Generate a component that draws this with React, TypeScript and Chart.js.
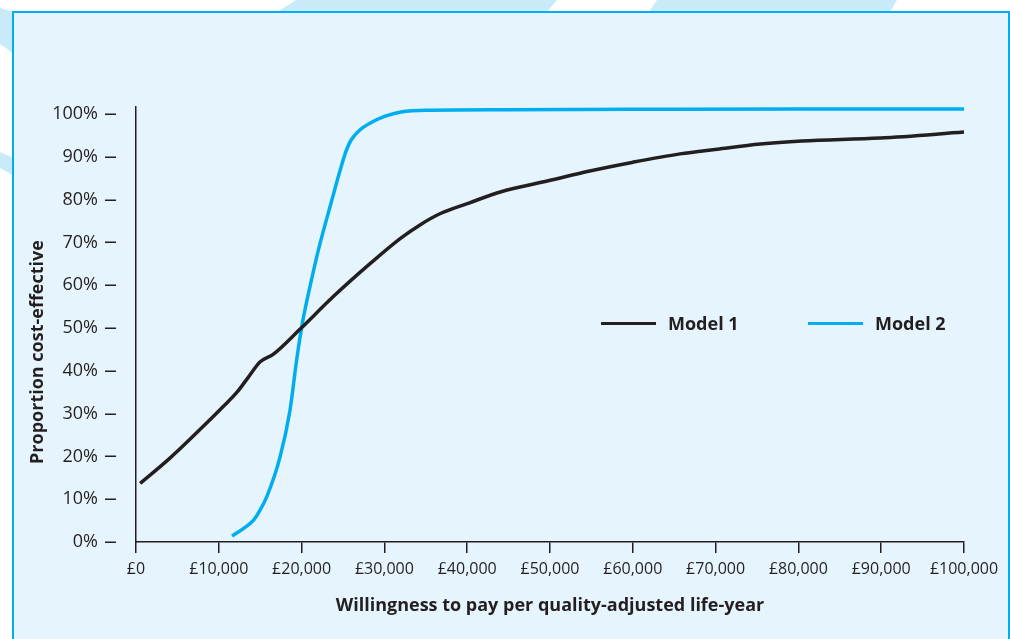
import React, { useEffect, useRef } from "react";
import { Chart, registerables } from "chart.js";

Chart.register(...registerables);

// ---------- data ----------
const xTickValues = [0, 10000, 20000, 30000, 40000, 50000, 60000, 70000, 80000, 90000, 100000];
const xTickLabels = ["£0", "£10,000", "£20,000", "£30,000", "£40,000", "£50,000", "£60,000", "£70,000", "£80,000", "£90,000", "£100,000"];
const yTickValues = [0, 10, 20, 30, 40, 50, 60, 70, 80, 90, 100];
const yTickLabels = ["0%", "10%", "20%", "30%", "40%", "50%", "60%", "70%", "80%", "90%", "100%"];

const seriesNames = ["Model 1", "Model 2"];

const model1X = [500, 4100, 8900, 10500, 12200, 13600, 15000, 16600, 19800, 23800, 28300, 31900, 34300, 36700, 40200, 44000, 49800, 54800, 59900, 65700, 70200, 75400, 80400, 89900, 100000];
const model1Y = [13.7, 19.6, 28.5, 31.6, 35.0, 38.6, 42.1, 43.9, 49.7, 57.3, 65.1, 70.9, 74.1, 76.7, 79.2, 81.8, 84.4, 86.7, 88.7, 90.7, 91.8, 93.0, 93.7, 94.4, 95.8];

const model2X = [11600, 13000, 14200, 15000, 15800, 17400, 18600, 19400, 20100, 21200, 22100, 23600, 24600, 25400, 26000, 27000, 28300, 30100, 32000, 35500, 45000, 60000, 80000, 100000];
const model2Y = [1.4, 3.2, 5.1, 7.5, 10.6, 19.9, 30.8, 42.5, 51.2, 61.3, 68.8, 79.5, 86.5, 91.5, 94.0, 96.2, 97.9, 99.5, 100.5, 100.9, 101.0, 101.1, 101.2, 101.2];

const xTitle = "Willingness to pay per quality-adjusted life-year";
const yTitle = "Proportion cost-effective";

// ---------- styles ----------
const INK = "#231f20";
const CYAN = "#00aeef";
const FONT = '"Open Sans", "Noto Sans", sans-serif';

const decorPlugin = {
  id: "decor",
  afterDraw(chart: any) {
    const { ctx, chartArea, scales } = chart;
    const ys = scales.y;
    ctx.save();
    // y tick dashes (detached from axis)
    ctx.strokeStyle = INK;
    ctx.lineWidth = 1.5;
    ys.ticks.forEach((t: any) => {
      const py = Math.round(ys.getPixelForValue(t.value)) + 0.25;
      ctx.beginPath();
      ctx.moveTo(chartArea.left - 31, py);
      ctx.lineTo(chartArea.left - 20, py);
      ctx.stroke();
    });
    // legend
    ctx.font = `bold 18px ${FONT}`;
    ctx.textBaseline = "middle";
    ctx.textAlign = "left";
    chart.data.datasets.forEach((ds: any, i: number) => {
      const x0 = chartArea.left + 465 + i * 207;
      const ly = chartArea.top + 216.5;
      ctx.strokeStyle = ds.borderColor;
      ctx.lineWidth = 3;
      ctx.beginPath();
      ctx.moveTo(x0, ly);
      ctx.lineTo(x0 + 55, ly);
      ctx.stroke();
      ctx.fillStyle = INK;
      ctx.fillText(ds.label, x0 + 67, ly + 1);
    });
    // axis titles
    ctx.fillStyle = INK;
    ctx.textAlign = "center";
    ctx.font = `bold 18px ${FONT}`;
    ctx.fillText(xTitle, (chartArea.left + chartArea.right) / 2, 606);
    ctx.translate(38, 352);
    ctx.rotate(-Math.PI / 2);
    ctx.font = `bold 18px ${FONT}`;
    ctx.fillText(yTitle, 0, 0);
    ctx.restore();
  },
};

export default function App() {
  const canvasRef = useRef<HTMLCanvasElement | null>(null);

  useEffect(() => {
    if (!canvasRef.current) return;
    Chart.defaults.font.family = FONT;
    const chart = new Chart(canvasRef.current, {
      type: "line",
      data: {
        datasets: [
          {
            label: seriesNames[0],
            data: model1X.map((x, i) => ({ x, y: model1Y[i] })),
            borderColor: INK,
            borderWidth: 3.5,
            pointRadius: 0,
            fill: false,
            cubicInterpolationMode: "monotone",
            clip: false as any,
          },
          {
            label: seriesNames[1],
            data: model2X.map((x, i) => ({ x, y: model2Y[i] })),
            borderColor: CYAN,
            borderWidth: 3.5,
            pointRadius: 0,
            fill: false,
            cubicInterpolationMode: "monotone",
            clip: false as any,
          },
        ],
      },
      options: {
        responsive: false,
        animation: false,
        layout: { padding: { left: 0, top: 107, right: 46, bottom: 0 } },
        plugins: {
          legend: { display: false },
          tooltip: { enabled: false },
        },
        scales: {
          x: {
            type: "linear",
            min: 0,
            max: 100000,
            afterFit: (s: any) => {
              s.height = 97;
            },
            afterBuildTicks: (s: any) => {
              s.ticks = xTickValues.map((v) => ({ value: v }));
            },
            ticks: {
              color: INK,
              font: { size: 16, family: FONT },
              padding: 7,
              maxRotation: 0,
              autoSkip: false,
              callback: (v: any) => {
                const i = xTickValues.indexOf(Number(v));
                return i >= 0 ? xTickLabels[i] : "";
              },
            },
            grid: {
              display: true,
              drawOnChartArea: false,
              drawTicks: true,
              tickLength: 11,
              color: INK,
              lineWidth: 1.5,
            },
            border: { display: true, color: INK, width: 1.5 },
          },
          y: {
            type: "linear",
            min: 0,
            max: 101.65,
            afterFit: (s: any) => {
              s.width = 136;
            },
            afterBuildTicks: (s: any) => {
              s.ticks = yTickValues.map((v) => ({ value: v }));
            },
            ticks: {
              color: INK,
              font: { size: 18, family: FONT },
              padding: 38,
              autoSkip: false,
              callback: (v: any) => {
                const i = yTickValues.indexOf(Number(v));
                return i >= 0 ? yTickLabels[i] : "";
              },
            },
            grid: { display: false, drawTicks: false },
            border: { display: true, color: INK, width: 1.5 },
          },
        },
      },
      plugins: [decorPlugin],
    });
    return () => chart.destroy();
  }, []);

  const stripe = (points: string) => (
    <div
      style={{
        position: "absolute",
        left: 0,
        top: 0,
        width: 1010,
        height: 639,
        background: "#c8eaf9",
        clipPath: `polygon(${points})`,
      }}
    />
  );

  return (
    <div
      style={{
        position: "fixed",
        left: 0,
        top: 0,
        width: 1010,
        height: 639,
        overflow: "hidden",
        background: "#ffffff",
      }}
    >
      {stripe("296px 0px, 557px 0px, 547px 12px, 277px 12px")}
      {stripe("657px 0px, 897px 0px, 890px 12px, 649px 12px")}
      {stripe("0px 8px, 14px 12px, 14px 54px, 0px 44px")}
      {stripe("0px 152px, 14px 158px, 14px 176px, 0px 168px")}
      <div
        style={{
          position: "absolute",
          left: 12,
          top: 11,
          width: 998,
          height: 700,
          boxSizing: "border-box",
          border: `2px solid ${CYAN}`,
          background: "#e6f5fd",
        }}
      />
      <canvas
        ref={canvasRef}
        width={1010}
        height={639}
        style={{ position: "absolute", left: 0, top: 0, width: 1010, height: 639 }}
      />
    </div>
  );
}
